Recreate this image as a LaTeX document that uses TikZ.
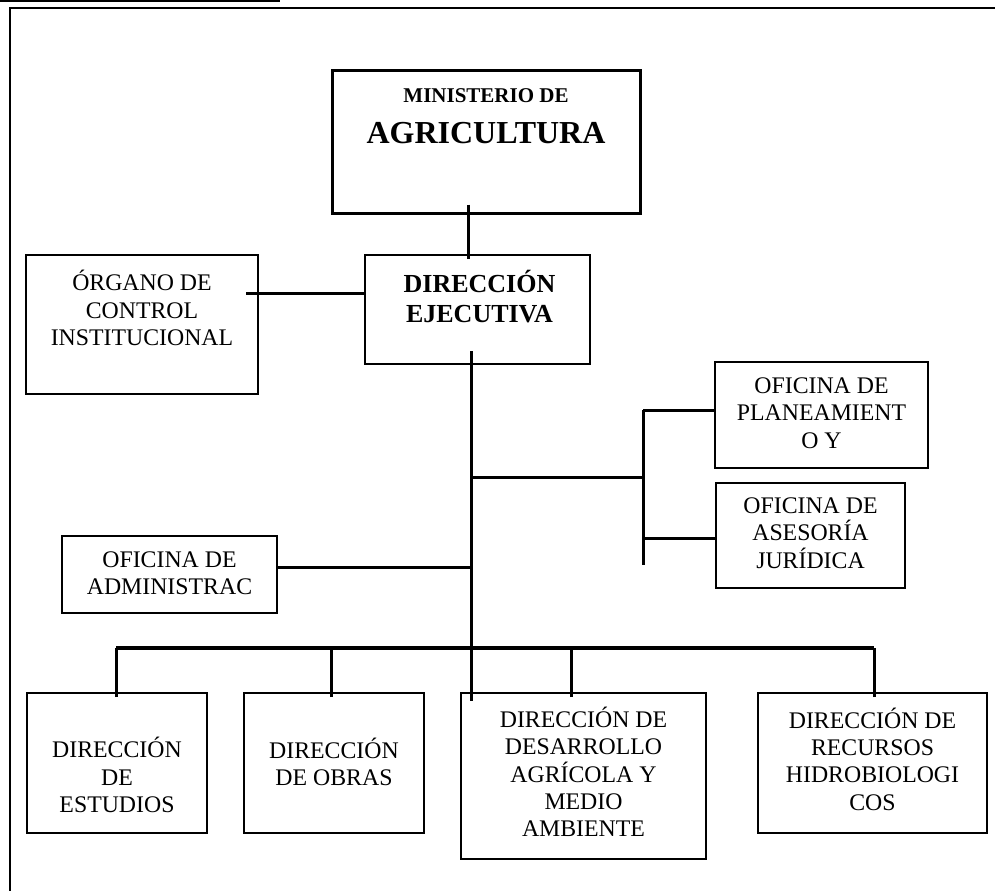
\documentclass[tikz,border=0pt]{standalone}
\usepackage{fontspec}
\setmainfont{Liberation Serif}
\usepackage{tikz}
\usetikzlibrary{calc}

\begin{document}
\begin{tikzpicture}[x=1pt, y=-1pt,
        box/.style={rectangle, draw, line width=2pt, inner sep=0pt},
        txt/.style={align=center, inner sep=0pt, font=\fontsize{23.8}{27.3}\selectfont},
        line/.style={draw, line width=3pt}
    ]
    \useasboundingbox (0,0) rectangle (995,891);

    % marco de la hoja
    \draw[line width=3pt] (0,1) -- (280,1);
    \draw[line width=2pt] (995,8) -- (10,8) -- (10,891);

    % cajas
    \node [box, line width=3pt, minimum width=308, minimum height=143] (mina) at (486,141.5) {};
    \node [box, minimum width=225, minimum height=109] (dirEj) at (477.5,309.5) {};
    \node [box, minimum width=232, minimum height=139] (organo) at (142,324.5) {};
    \node [box, minimum width=213, minimum height=106] (plan) at (821.5,415) {};
    \node [box, minimum width=189, minimum height=105] (ases) at (810.5,535.5) {};
    \node [box, minimum width=215, minimum height=77] (admin) at (169.5,574.5) {};
    \node [box, minimum width=180, minimum height=140] (estudios) at (117,763) {};
    \node [box, minimum width=180, minimum height=140] (obras) at (334,763) {};
    \node [box, minimum width=245, minimum height=166] (dda) at (583.5,776) {};
    \node [box, minimum width=229, minimum height=140] (recursos) at (872.5,763) {};

    % textos
    \node [txt, anchor=base, font=\fontsize{21}{24}\selectfont\bfseries] (minaTop) at (486,102) {MINISTERIO DE};
    \node [txt, anchor=base, font=\fontsize{32}{36}\selectfont\bfseries] (minaBot) at (486,143) {AGRICULTURA};
    \node [txt, font=\fontsize{26}{30}\selectfont\bfseries] (dirEjTxt) at (479.5,297) {DIRECCIÓN\\EJECUTIVA};
    \node [txt] (organoTxt) at (142,308) {ÓRGANO DE\\CONTROL\\INSTITUCIONAL};
    \node [txt] (planTxt) at (821.5,413) {OFICINA DE\\PLANEAMIENT\\O Y};
    \node [txt] (asesTxt) at (810.5,533) {OFICINA DE\\ASESORÍA\\JURÍDICA};
    \node [txt] (adminTxt) at (169.5,573) {OFICINA DE\\ADMINISTRAC};
    \node [txt] (estudiosTxt) at (117,775) {DIRECCIÓN\\DE\\ESTUDIOS};
    \node [txt] (obrasTxt) at (334,762) {DIRECCIÓN\\DE OBRAS};
    \node [txt] (ddaTxt) at (583.5,772) {DIRECCIÓN DE\\DESARROLLO\\AGRÍCOLA Y\\MEDIO\\AMBIENTE};
    \node [txt] (recursosTxt) at (872.5,759) {DIRECCIÓN DE\\RECURSOS\\HIDROBIOLOGI\\COS};

    % puntos de union
    \coordinate (trunk) at (471,477);
    \coordinate (side) at (643,477);
    \coordinate (sideTop) at (643,410);
    \coordinate (sideEnd) at (643,565);
    \coordinate (busL) at (116,648);
    \coordinate (busR) at (874,648);

    % conectores
    \draw [line] ([xshift=-18pt,yshift=10pt]mina.south) -- ([xshift=-9.5pt,yshift=-5pt]dirEj.north);
    \draw [line] ([xshift=-13pt,yshift=31.5pt]organo.east) coordinate (o1) -- (o1 -| dirEj.west);
    \draw [line] ([xshift=-6.5pt,yshift=14pt]dirEj.south) -- ([xshift=-112.5pt,yshift=-9pt]dda.north);
    \draw [line] ([yshift=7.5pt]admin.east) coordinate (a1) -- (a1 -| trunk);
    \draw [line] (trunk) -- (side);
    \draw [line] (sideTop) -- (sideEnd);
    \draw [line] (sideTop) -- (sideTop -| plan.west);
    \draw [line] ([yshift=-2.5pt]ases.west) coordinate (s1) -- (s1 -| side);
    \draw [line, line width=4pt] (busL) -- (busR);
    \draw [line] ([xshift=-1pt,yshift=-5pt]estudios.north) -- (busL);
    \draw [line] ([xshift=-3pt,yshift=-5pt]obras.north) coordinate (d2) -- (d2 |- busL);
    \draw [line] ([xshift=-12.5pt,yshift=-5pt]dda.north) coordinate (d3) -- (d3 |- busL);
    \draw [line] ([xshift=1.5pt,yshift=-5pt]recursos.north) -- (busR);
\end{tikzpicture}
\end{document}
